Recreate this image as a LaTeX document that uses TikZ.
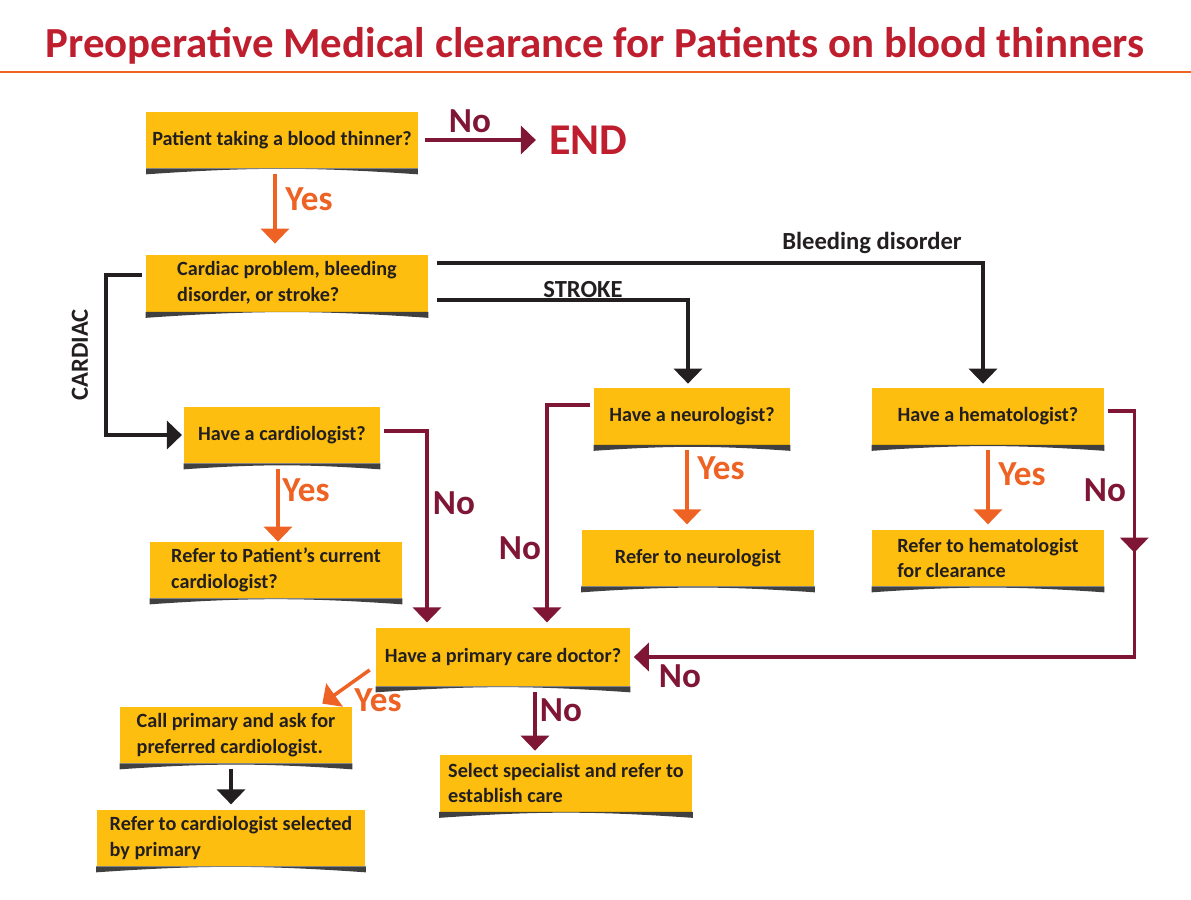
\documentclass[tikz,border=0pt]{standalone}
\usepackage{fontspec}
\setmainfont{Carlito}
\usetikzlibrary{arrows.meta,positioning,decorations.markings}

\definecolor{boxyellow}{RGB}{253,190,16}
\definecolor{titlered}{RGB}{190,30,45}
\definecolor{maroon}{RGB}{128,22,54}
\definecolor{yesorange}{RGB}{238,98,36}
\definecolor{inkblack}{RGB}{35,31,32}

% curled shadow under a box
\newcommand{\curl}[1]{%
  \fill[black, opacity=0.75] (#1.south west) -- (#1.south east)
    -- ([yshift=-0.12cm]#1.south east) to[out=176,in=4] ([yshift=-0.12cm]#1.south west) -- cycle;}

\begin{document}
\begin{tikzpicture}[x=0.02cm,y=-0.02cm,
    box/.style={fill=boxyellow, text=inkblack, font=\bfseries\fontsize{11.5}{14.5}\selectfont, minimum height=1.12cm, align=left},
    yesline/.style={draw=yesorange, line width=2pt, -{Triangle[width=0.56cm,length=0.3cm]}},
    noline/.style={draw=maroon, line width=2pt, -{Triangle[width=0.56cm,length=0.3cm]}},
    blkline/.style={draw=inkblack, line width=2.2pt, -{Triangle[width=0.56cm,length=0.3cm]}},
    yeslbl/.style={text=yesorange, font=\bfseries\fontsize{20}{20}\selectfont},
    nolbl/.style={text=maroon, font=\bfseries\fontsize{20}{20}\selectfont},
    branch/.style={text=inkblack, font=\bfseries\fontsize{14}{14}\selectfont}]

    \useasboundingbox (0,0) rectangle (1191,900);

    \node[text=titlered, font=\bfseries\fontsize{24.4}{24.4}\selectfont] (title) at (595,46)
    {Preoperative Medical clearance for Patients on blood thinners};
    \draw[yesorange, line width=1.2pt] (0,72) -- (1191,72);

    % boxes
    \node[box, minimum width=5.42cm] (thinner) at (282,140) {Patient taking a blood thinner?};
    \node[text=titlered, font=\bfseries\fontsize{25}{25}\selectfont] (finish) [right=2.5cm of thinner] {END};
    \node[box, minimum width=5.64cm, minimum height=1.14cm] (problem) at (287,283)
    {Cardiac problem, bleeding\\disorder, or stroke?};
    \node[box, minimum width=3.92cm] (cardio) at (282,435) {Have a cardiologist?};
    \node[box, minimum width=3.92cm, minimum height=1.14cm] (neuro) at (692,416) {Have a neurologist?};
    \node[box, minimum width=4.64cm, minimum height=1.14cm] (hemato) at (988,416) {Have a hematologist?};
    \node[box, minimum width=5.04cm] (refcur) at (276,570)
    {Refer to Patient’s current\\cardiologist?};
    \node[box, minimum width=4.66cm] (refneuro) at (698,558) {Refer to neurologist};
    \node[box, minimum width=4.64cm] (refhem) at (988,558)
    {Refer to hematologist\\for clearance};
    \node[box, minimum width=5.08cm, minimum height=1.16cm] (primary) at (503,657) {Have a primary care doctor?};
    \node[box, minimum width=4.64cm] (call) at (236,735)
    {Call primary and ask for\\preferred cardiologist.};
    \node[box, minimum width=5.06cm, minimum height=1.14cm] (select) at (566,783)
    {Select specialist and refer to\\establish care};
    \node[box, minimum width=5.38cm] (refsel) at (231,838)
    {Refer to cardiologist selected\\by primary};

    \foreach \b in {thinner,problem,cardio,neuro,hemato,refcur,refneuro,refhem,primary,call,select,refsel}
    \curl{\b};

    % connectors
    \draw[noline, shorten <=4pt, shorten >=4pt] (thinner.east) -- (finish.west);
    \draw[yesline, shorten <=3pt, shorten >=6pt] ([xshift=-0.14cm]thinner.south) -- ([xshift=-0.14cm]thinner.south |- problem.north);
    \draw[blkline, shorten <=2pt, shorten >=1pt] ([yshift=0.16cm]problem.west) -- ++(-0.8cm,0) |- (cardio.west);
    \draw[blkline, shorten <=5pt, shorten >=2pt] ([yshift=0.4cm]problem.east) -| ([xshift=-0.1cm]hemato.north);
    \draw[blkline, shorten <=5pt, shorten >=2pt] ([yshift=-0.34cm]problem.east) -| ([xshift=-0.08cm]neuro.north);
    \draw[yesline, shorten <=3pt] ([xshift=-0.08cm]cardio.south) -- ([xshift=-0.08cm]cardio.south |- refcur.north);
    \draw[noline, shorten <=2pt, shorten >=3pt] ([yshift=0.08cm]cardio.east) -| ([xshift=-1.52cm]primary.north);
    \draw[noline, shorten <=2pt, shorten >=3pt] ([yshift=0.22cm]neuro.west) -| ([xshift=0.88cm]primary.north);
    \draw[yesline, shorten <=3pt, shorten >=3pt] ([xshift=-0.1cm]neuro.south) -- ([xshift=-0.1cm]neuro.south |- refneuro.north);
    \draw[yesline, shorten <=3pt, shorten >=3pt] (hemato.south) -- (hemato.south |- refhem.north);
    \draw[noline, shorten <=2pt, shorten >=2pt, postaction={decorate},
      decoration={markings, mark=at position 0.22 with {\arrow{Triangle[width=0.56cm,length=0.3cm]}}}]
      ([yshift=0.1cm]hemato.east) -- ++(0.6cm,0) |- (primary.east);
    \draw[yesline] ([shift={(-0.12cm,-0.26cm)}]primary.west) -- ([shift={(-0.6cm,0.06cm)}]call.north east);
    \draw[noline, shorten <=3pt, shorten >=2pt] ([xshift=0.64cm]primary.south) -- ([xshift=0.64cm]primary.south |- select.north);
    \draw[blkline, shorten <=3pt, shorten >=3pt] (refsel.north |- call.south) -- (refsel.north);

    % labels
    \node[nolbl] (nothinner) at (470,121) {No};
    \node[yeslbl] (yesthinner) at (309,199) {Yes};
    \node[branch] (bleedlbl) at (872,243) {Bleeding disorder};
    \node[branch] (strokelbl) at (583,290) {STROKE};
    \node[branch, rotate=90] (cardiaclbl) at (80,355) {CARDIAC};
    \node[yeslbl] (yescardio) at (306,490) {Yes};
    \node[nolbl] (nocardio) at (454,503) {No};
    \node[nolbl] (noneuro) at (520,548) {No};
    \node[yeslbl] (yesneuro) at (721,468) {Yes};
    \node[yeslbl] (yeshemato) at (1022,474) {Yes};
    \node[nolbl] (nohemato) at (1105,490) {No};
    \node[nolbl] (nobottom) at (680,676) {No};
    \node[yeslbl] (yesprimary) at (378,700) {Yes};
    \node[nolbl] (noprimary) at (561,710) {No};

\end{tikzpicture}
\end{document}
